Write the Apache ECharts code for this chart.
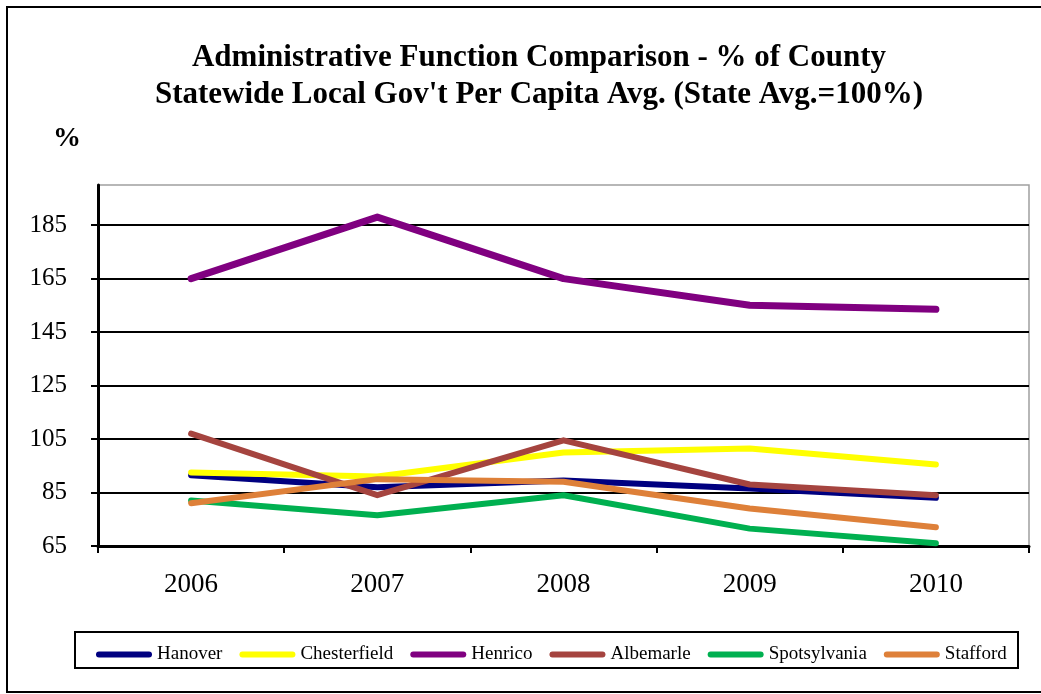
<!DOCTYPE html>
<html>
<head>
<meta charset="utf-8">
<script src="https://cdn.jsdelivr.net/npm/echarts@6/dist/echarts.min.js"></script>
<style>html,body{margin:0;padding:0;background:#fff}#c{width:1041px;height:694px}</style>
</head>
<body>
<div id="c"></div>
<script>
const years = ['2006', '2007', '2008', '2009', '2010'];
const seriesNames = ['Hanover', 'Chesterfield', 'Henrico', 'Albemarle', 'Spotsylvania', 'Stafford'];
const hanover = [91.5, 87, 89.5, 86.5, 83];
const chesterfield = [92.5, 91, 100, 101.5, 95.5];
const henrico = [165, 188, 165, 155, 153.5];
const albemarle = [107, 84, 104.5, 88, 84];
const spotsylvania = [82, 76.5, 84, 71.5, 66];
const stafford = [81, 90, 89, 79, 72];
const yTicks = [65, 85, 105, 125, 145, 165, 185];

const values = [hanover, chesterfield, henrico, albemarle, spotsylvania, stafford];
const colors = ['#000080', '#FFFF00', '#800080', '#A5443F', '#00B050', '#DE8039'];
const widths = [6, 6, 7, 6, 6, 6];
const FONT = '"Liberation Serif", "Times New Roman", serif';
const pill = 'path://M3,0 L53,0 A3,3 0 0 1 53,6 L3,6 A3,3 0 0 1 3,0 Z';

const chart = echarts.init(document.getElementById('c'), null, {renderer: 'canvas'});
chart.setOption({
  animation: false,
  backgroundColor: '#fff',
  title: [{
    text: 'Administrative Function Comparison - % of County\nStatewide Local Gov\'t Per Capita Avg. (State Avg.=100%)',
    left: 534, top: 34, textAlign: 'center',
    textStyle: {fontFamily: FONT, fontWeight: 'bold', fontSize: 31, lineHeight: 37, color: '#000'}
  }, {
    text: '%', left: 48, top: 120,
    textStyle: {fontFamily: FONT, fontWeight: 'bold', fontSize: 28, color: '#000'}
  }],
  graphic: [{
    type: 'rect', shape: {x: 7, y: 7, width: 1045, height: 685},
    style: {fill: 'none', stroke: '#000', lineWidth: 2}, silent: true
  }, {
    type: 'rect', shape: {x: 75, y: 632, width: 943, height: 36},
    style: {fill: 'none', stroke: '#000', lineWidth: 2}, silent: true
  }],
  legend: {
    left: 91, top: 640, itemWidth: 56, itemHeight: 6, itemGap: 17,
    icon: pill,
    textStyle: {fontFamily: FONT, fontSize: 19, color: '#000'},
    data: seriesNames
  },
  grid: {left: 98, top: 185, right: 12, bottom: 148, show: true, borderColor: '#a0a0a0', borderWidth: 1.5},
  xAxis: {
    type: 'category', data: years, boundaryGap: true,
    axisLine: {lineStyle: {color: '#000', width: 3}},
    axisTick: {show: true, length: 7, lineStyle: {color: '#000', width: 2}},
    axisLabel: {fontFamily: FONT, fontSize: 27, color: '#000', margin: 25},
    splitLine: {show: false}
  },
  yAxis: {
    type: 'value', min: 65, max: 200, interval: 20,
    axisLine: {show: true, lineStyle: {color: '#000', width: 3}},
    axisTick: {show: true, length: 7, lineStyle: {color: '#000', width: 2}, customValues: yTicks},
    axisLabel: {fontFamily: FONT, fontSize: 25, color: '#000', margin: 31, customValues: yTicks,
      formatter: v => (yTicks.indexOf(v) >= 0 ? String(v) : '')},
    splitLine: {show: true, lineStyle: {color: ['#000', '#000', '#000', '#000', '#000', '#000', '#000', '#a0a0a0'], width: 2}}
  },
  series: seriesNames.map((n, i) => ({
    name: n, type: 'line', data: values[i], symbol: 'none', z: 2 + i,
    lineStyle: {color: colors[i], width: widths[i], cap: 'round', join: 'round'},
    itemStyle: {color: colors[i]}
  }))
});
</script>
</body>
</html>
